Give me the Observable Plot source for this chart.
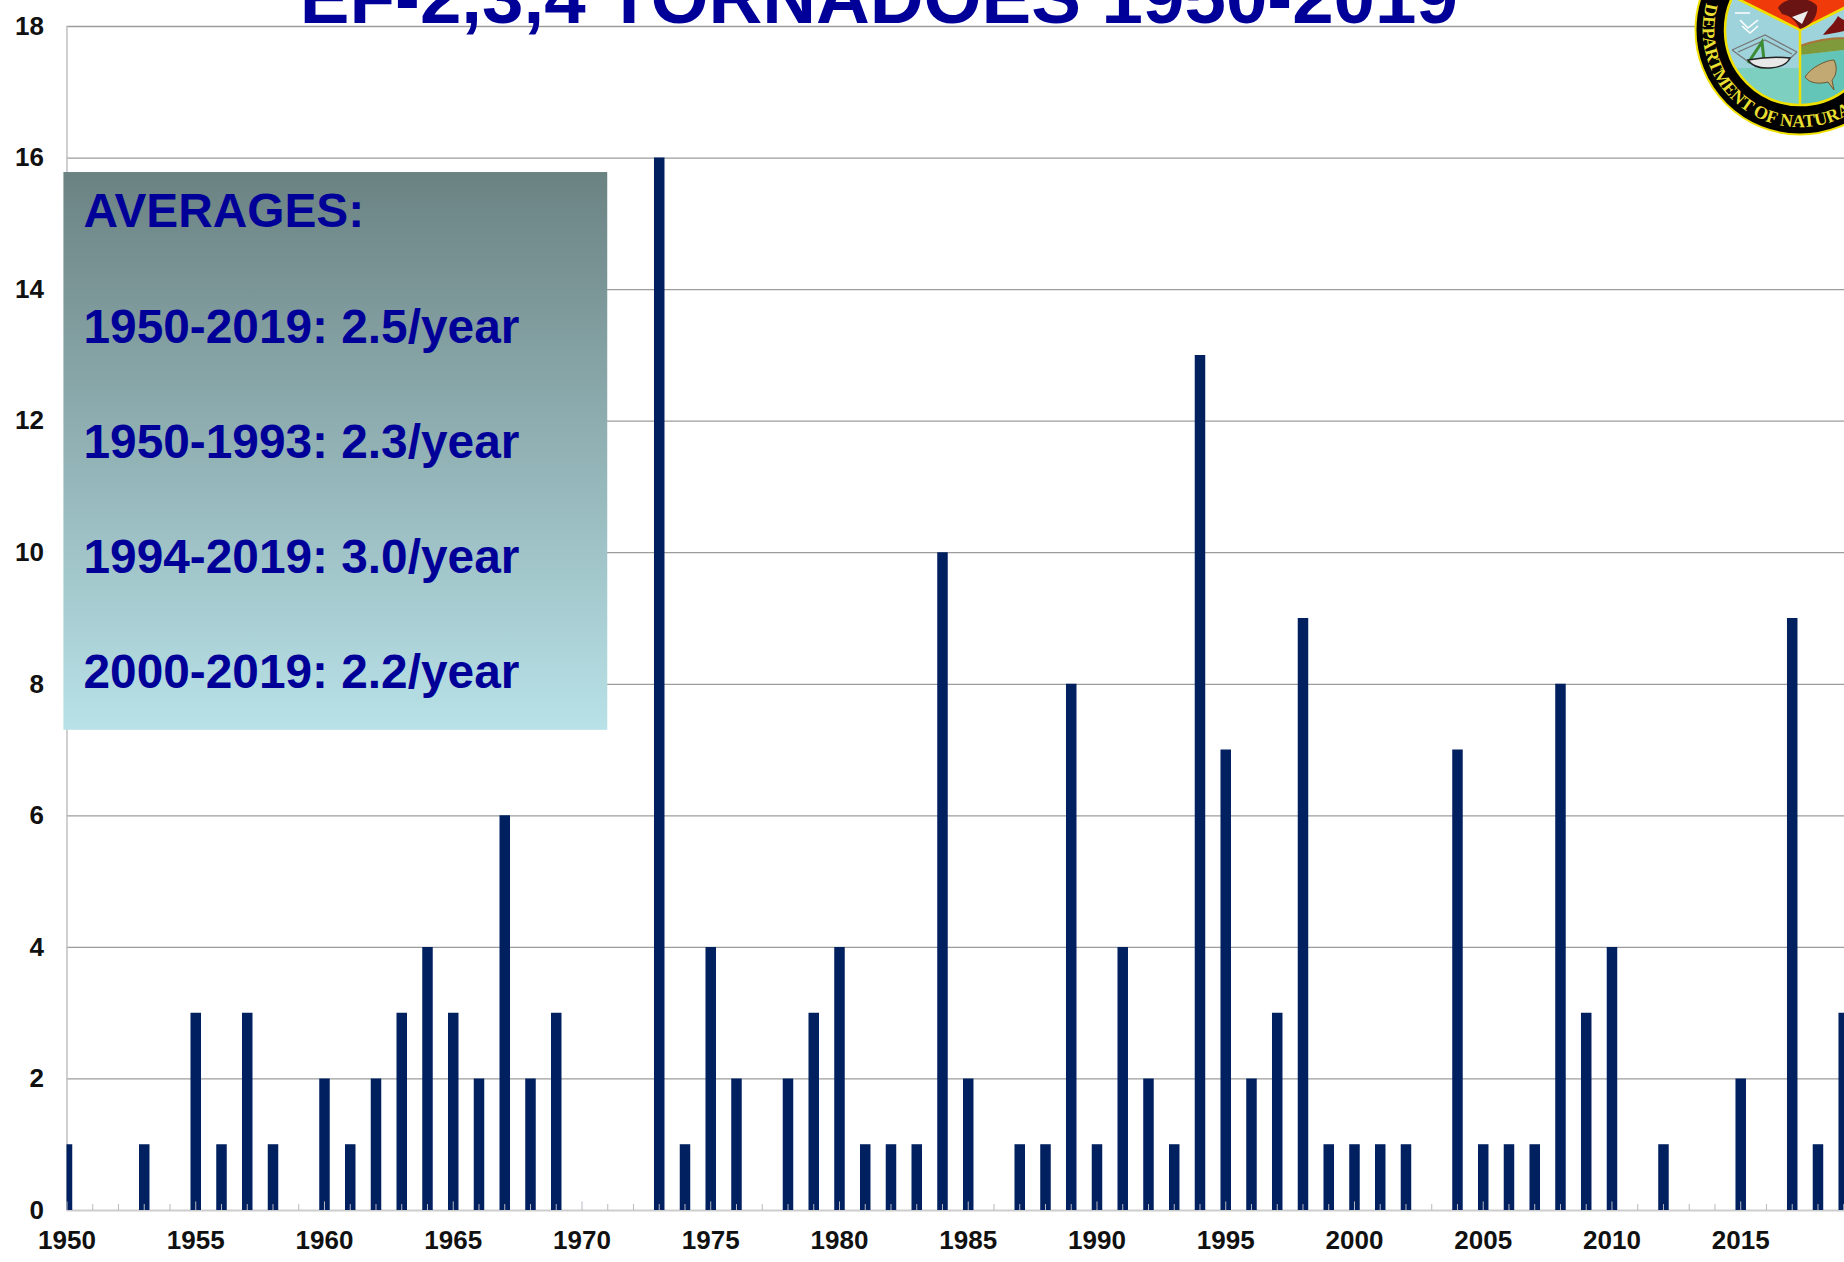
<!DOCTYPE html>
<html>
<head>
<meta charset="utf-8">
<style>html,body{margin:0;padding:0;background:#fff;overflow:hidden}</style>
<script src="https://cdn.jsdelivr.net/npm/d3@7"></script>
<script src="https://cdn.jsdelivr.net/npm/@observablehq/plot@0.6"></script>
</head>
<body>
<div id="chart"></div>
<script>
const titleText = "EF-2,3,4 TORNADOES 1950-2019";
const years = d3.range(1950, 2020);
const counts = [
  1,0,0,1,0,3,1,3,1,0,
  2,1,2,3,4,3,2,6,2,3,
  0,0,0,16,1,4,2,0,2,3,
  4,1,1,1,10,2,0,1,1,8,
  1,4,2,1,13,7,2,3,9,1,
  1,1,1,0,7,1,1,1,8,3,
  4,0,1,0,0,2,0,9,1,3
];
const xTickYears = d3.range(1950, 2020, 5);
const yTickValues = d3.range(0, 19, 2);
const averageLines = [
  "AVERAGES:",
  "1950-2019: 2.5/year",
  "1950-1993: 2.3/year",
  "1994-2019: 3.0/year",
  "2000-2019: 2.2/year"
];
const averageRows = [14.95, 13.19, 11.44, 9.69, 7.94];
const rows = years.map((year, i) => ({year, count: counts[i]}));
const font = '"Liberation Sans", Arial, sans-serif';

function defs() {
  const g = d3.create("svg:defs");
  const lg = g.append("linearGradient").attr("id","boxGrad").attr("x1",0).attr("x2",0).attr("y1",0).attr("y2",1);
  lg.append("stop").attr("offset","0%").attr("stop-color","#6b8282");
  lg.append("stop").attr("offset","100%").attr("stop-color","#b8e2e8");
  return g.node();
}

function seal() {
  const g = d3.create("svg:g").attr("transform","translate(1800,30)");
  g.html(`
    <circle r="104.5" fill="#000" stroke="#f0e000" stroke-width="2"/>
    <circle r="75" fill="#9fd3dc"/>
    <path d="M0,0 L-67,-33.5 A75,75 0 0 1 67,-33.5 Z" fill="#f03a0a"/>
    <path d="M0,75 A75,75 0 0 1 -64,38 L-40,38 L0,38 Z" fill="#7dcfc0"/>
    <path d="M0,75 A75,75 0 0 0 73,18 L44,20 L0,25 Z" fill="#63c4b8"/>
    <path d="M0,16 Q22,8 44,8 L74,2 L74,16 L44,20 L0,25 Z" fill="#7f9a3a"/>
    <path d="M0,16 Q22,8 44,8 L74,2" stroke="#a8743a" stroke-width="2" fill="none"/>
    <circle r="75" fill="none" stroke="#f0e000" stroke-width="2.5"/>
    <path d="M0,0 L-67,-33.5 M0,0 L67,-33.5 M0,0 L0,75" stroke="#f0e000" stroke-width="2.5" fill="none"/>
    <path d="M-22,-22 C-16,-34 10,-34 17,-24 C18,-12 10,-4 0,-1 C-4,-8 -8,-14 -18,-16 Z" fill="#6a1414"/>
    <path d="M-8,-13 L8,-19 L2,-6 Z" fill="#eee"/>
    <path d="M23,5 C28,-2 34,-6 38,-14 C44,-8 52,-8 60,-6 L48,0 C40,2 30,4 23,5 Z" fill="#7a1212"/>
    <path d="M-68,20 L-35,5 L-3,22 M-68,20 L-50,33 M-3,22 L-16,34 M-62,22 L-35,10 L-8,24" stroke="#777" stroke-width="1.3" fill="none"/>
    <path d="M-52,33 L-38,12 L-36,30" stroke="#3c8c35" stroke-width="3" fill="none"/>
    <path d="M-52,30 Q-30,26 -10,28 Q-14,37 -30,38 Q-46,39 -52,30 Z" fill="#e8e8e8" stroke="#222" stroke-width="1.5"/>
    <path d="M-65,-17 L-50,-17 M-60,-10 L-52,-2 L-42,-10 M-58,-4 L-50,3 L-42,-4" stroke="#fff" stroke-width="1.6" fill="none"/>
    <path d="M5,47 C10,38 26,30 34,30 C38,38 36,46 32,50 L34,60 L28,52 C20,54 10,54 5,47 Z" fill="#c2a873" stroke="#6b5a30" stroke-width="1"/>
    <path id="sealArc" d="M-93.5,-27 A97.3,97.3 0 1 0 97.3,0" fill="none"/>
    <text font-family="Liberation Serif, serif" font-size="18" font-weight="bold" fill="#e8df30" text-anchor="start" style="text-anchor:start">
      <textPath href="#sealArc" startOffset="0">DEPARTMENT OF NATURAL RESOURCES</textPath>
    </text>`);
  return g.node();
}

const chart = Plot.plot({
  width: 1844,
  height: 1262,
  marginLeft: 66.5,
  marginRight: 0,
  marginTop: 26,
  marginBottom: 52,
  style: {background: "#fff", fontFamily: font, overflow: "visible"},
  x: {domain: [1950, 2019.03], axis: null},
  y: {domain: [0, 18], axis: null},
  marks: [
    defs,
    Plot.ruleY(yTickValues.filter(d => d > 0), {stroke: "#9c9c9c", strokeWidth: 1.3}),
    Plot.ruleX([1950], {stroke: "#c0c0c0", strokeWidth: 1.5}),
    Plot.ruleY([0], {stroke: "#cdcdcd", strokeWidth: 2}),
    Plot.ruleX(rows, {x: "year", y1: 0, y2: "count", stroke: "#002060", strokeWidth: 10.5, clip: "frame"}),
    Plot.ruleX(years, {y1: 0, y2: d => (d % 5 === 0 ? 0.13 : 0.09), stroke: "#b8b8c0", strokeWidth: 1}),
    Plot.axisX({
      anchor: "bottom", ticks: xTickYears, tickSize: 0, tickPadding: 20.5,
      tickFormat: d => String(d), label: null,
      fontSize: 26, fontWeight: "bold", fill: "#111"
    }),
    Plot.axisY({
      anchor: "left", ticks: yTickValues, tickSize: 0, tickPadding: 23,
      tickFormat: d => String(d), label: null,
      fontSize: 26, fontWeight: "bold", fill: "#111"
    }),
    Plot.rect([0], {x1: () => 1949.88, x2: () => 1971.0, y1: () => 7.3, y2: () => 15.78, fill: "url(#boxGrad)"}),
    Plot.text(averageLines, {
      x: () => 1950.64, y: (d, i) => averageRows[i], text: d => d,
      textAnchor: "start", lineAnchor: "bottom",
      fontSize: 47.8, fontWeight: "bold", fill: "#000099"
    }),
    Plot.text([titleText], {
      x: () => 1981.53, y: () => 18.05, text: d => d,
      textAnchor: "middle", lineAnchor: "bottom",
      fontSize: 74.5, fontWeight: "bold", fill: "#000099"
    }),
    seal
  ]
});
document.getElementById("chart").appendChild(chart);
</script>
</body>
</html>
